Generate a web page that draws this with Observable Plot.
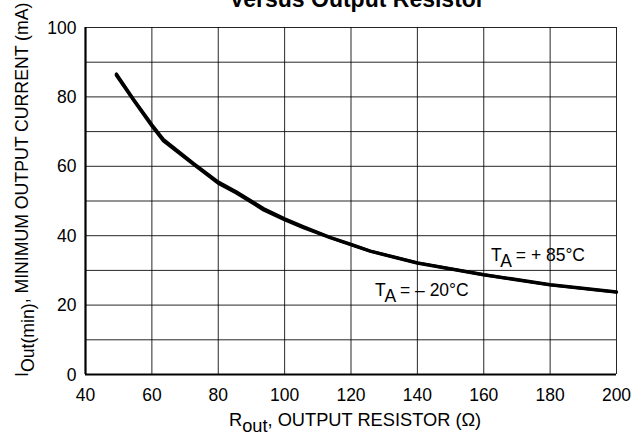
<!DOCTYPE html>
<html>
<head>
<meta charset="utf-8">
<script src="https://cdn.jsdelivr.net/npm/d3@7"></script>
<script src="https://cdn.jsdelivr.net/npm/@observablehq/plot@0.6"></script>
<style>
  html, body { margin: 0; padding: 0; background: #fff; overflow: hidden; }
  #chart { position: relative; width: 640px; height: 434px; }
</style>
</head>
<body>
<div id="chart"></div>
<script>
// Output resistor (Ω)
const rOut = [49.3, 54.5, 60, 63.5, 72.5, 80, 85.5, 93.7, 100, 105.7, 113.8, 120, 125.8, 140, 160, 180, 200];
// Minimum output current (mA), TA = +85°C
const iOutHot = [86.6, 79.3, 72.0, 67.7, 60.9, 55.5, 52.6, 47.8, 44.9, 42.6, 39.5, 37.5, 35.6, 32.2, 28.8, 25.9, 23.8];
// Minimum output current (mA), TA = -20°C
const iOutCold = [86.2, 79.0, 71.6, 67.3, 60.6, 55.1, 52.3, 47.4, 44.6, 42.3, 39.4, 37.4, 35.5, 32.1, 28.7, 25.8, 23.7];
const xTicks = [40, 60, 80, 100, 120, 140, 160, 180, 200];
const yTicks = [0, 20, 40, 60, 80, 100];
const yGrid = [0, 10, 20, 30, 40, 50, 60, 70, 80, 90, 100];
const seriesLabels = [
  {x: 162.3, y: 32.7, main: "T", sub: "A", rest: " = + 85°C"},
  {x: 127.4, y: 22.5, main: "T", sub: "A", rest: " = – 20°C"}
];

const hot = rOut.map((r, i) => ({r, i: iOutHot[i]}));
const cold = rOut.map((r, i) => ({r, i: iOutCold[i]}));

const FONT = "'Liberation Sans', Arial, Helvetica, sans-serif";
const FS = 19;

const chart = Plot.plot({
  width: 640,
  height: 434,
  marginLeft: 85,
  marginRight: 24,
  marginTop: 27,
  marginBottom: 60,
  style: {fontFamily: FONT, fontSize: FS + "px", color: "#000", background: "#fff"},
  x: {domain: [40, 200], type: "linear"},
  y: {domain: [0, 100], type: "linear"},
  marks: [
    Plot.gridX(xTicks, {stroke: "#000", strokeOpacity: 0.85, strokeWidth: 1}),
    Plot.gridY(yGrid, {stroke: "#000", strokeOpacity: 0.85, strokeWidth: 1}),
    Plot.ruleX([40], {stroke: "#000", strokeWidth: 2.2}),
    Plot.ruleY([0], {stroke: "#000", strokeWidth: 2.2}),
    Plot.axisX(xTicks, {tickSize: 0, tickPadding: 13, label: null, fontSize: FS}),
    Plot.axisY(yTicks, {tickSize: 0, tickPadding: 9, label: null, fontSize: FS}),
    Plot.line(cold, {x: "r", y: "i", stroke: "#000", strokeWidth: 3.2}),
    Plot.line(hot, {x: "r", y: "i", stroke: "#000", strokeWidth: 3.2})
  ]
});

document.getElementById("chart").appendChild(chart);

const svg = d3.select(chart);
const sx = chart.scale("x"), sy = chart.scale("y");

function addSubText(x, y, main, sub, rest, transform, squeeze) {
  const t = svg.append("text")
    .attr("class", "narrow")
    .attr("text-anchor", "start")
    .attr("data-squeeze", squeeze || 0.92)
    .style("font-family", FONT).style("font-size", FS + "px").attr("fill", "#000");
  if (transform) t.attr("transform", transform);
  else t.attr("x", x).attr("y", y);
  t.append("tspan").text(main);
  t.append("tspan").attr("dy", 6).text(sub);
  t.append("tspan").attr("dy", -6).text(rest);
  return t;
}

// Curve labels
for (const d of seriesLabels) {
  addSubText(sx.apply(d.x), sy.apply(d.y), d.main, d.sub, d.rest);
}

// X axis label
addSubText(229, 426, "R", "out", ", OUTPUT RESISTOR (Ω)", null, 0.96);

// Y axis label
addSubText(0, 0, "I", "Out(min)", ", MINIMUM OUTPUT CURRENT (mA)", "translate(28,377) rotate(-90)", 0.93);

// Narrow (condensed) look of the reference typeface
svg.selectAll("text").each(function () {
  const len = this.getComputedTextLength();
  const k = +(this.getAttribute("data-squeeze") || 0.92);
  if (len > 0) {
    this.setAttribute("textLength", (len * k).toFixed(2));
    this.setAttribute("lengthAdjust", "spacingAndGlyphs");
  }
});

// Title (cut off at the top as in the reference)
svg.append("text")
  .attr("x", 357).attr("y", 7)
  .attr("text-anchor", "middle")
  .style("font-family", FONT)
  .style("font-weight", "bold")
  .style("font-size", "23px")
  .attr("fill", "#000")
  .text("Versus Output Resistor");
</script>
</body>
</html>
